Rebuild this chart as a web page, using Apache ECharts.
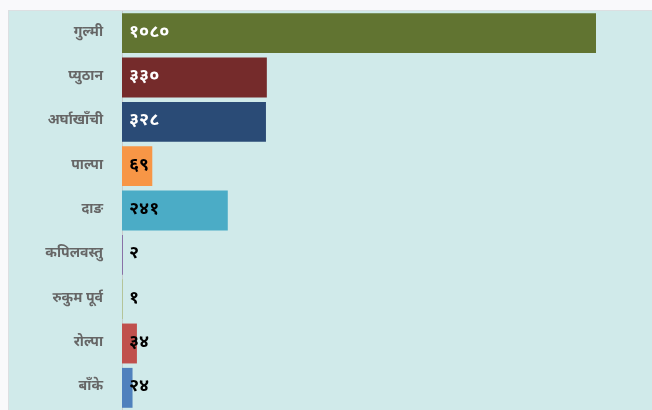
<!DOCTYPE html>
<html>
<head>
<meta charset="utf-8">
<script src="https://cdn.jsdelivr.net/npm/echarts@6/dist/echarts.min.js"></script>
<style>
  html, body { margin: 0; padding: 0; background: #f9f9fb; }
  #chart {
    position: absolute; left: 8px; top: 10px;
    width: 644px; height: 400px;
    background: #d0eaea;
    border-top: 1px solid #dcdfe2; border-left: 1px solid #dcdfe2;
    box-sizing: border-box;
  }
</style>
</head>
<body>
<div id="chart"></div>
<script>
// districts, top to bottom
const districts = ['गुल्मी', 'प्युठान', 'अर्घाखाँची', 'पाल्पा', 'दाङ', 'कपिलवस्तु', 'रुकुम पूर्व', 'रोल्पा', 'बाँके'];
const counts = [1080, 330, 328, 69, 241, 2, 1, 34, 24];
const barColors = ['#617431', '#752b2b', '#2a4b76', '#f79646', '#4bacc6', '#8064a2', '#9bbb59', '#c0504d', '#4f81bd'];
const labelColors = ['#fff', '#fff', '#fff', '#000', '#000', '#000', '#000', '#000', '#000'];

const devDigits = '०१२३४५६७८९';
function toNepali(n) {
  return String(n).replace(/[0-9]/g, d => devDigits[d]);
}

const font = "'Noto Sans Devanagari', 'Noto Sans', sans-serif";
const myChart = echarts.init(document.getElementById('chart'));

myChart.setOption({
  animation: false,
  grid: { left: 113, right: 56, top: 0, bottom: 0, containLabel: false },
  xAxis: {
    type: 'value', min: 0, max: 1080,
    show: false
  },
  yAxis: {
    type: 'category',
    data: districts,
    inverse: true,
    axisLine: { show: true, lineStyle: { color: '#c8cccc', width: 1 } },
    axisTick: { show: false },
    axisLabel: {
      color: '#666', fontSize: 14, fontWeight: 'bold', fontFamily: font, margin: 19
    }
  },
  series: [{
    type: 'bar',
    barCategoryGap: '10%',
    data: counts.map((v, i) => ({
      value: v,
      itemStyle: { color: barColors[i] },
      label: { color: labelColors[i] }
    })),
    label: {
      show: true,
      position: 'insideLeft',
      distance: 7,
      fontSize: 18,
      fontWeight: 'bold',
      fontFamily: font,
      formatter: p => toNepali(p.value)
    }
  }]
});
</script>
</body>
</html>
